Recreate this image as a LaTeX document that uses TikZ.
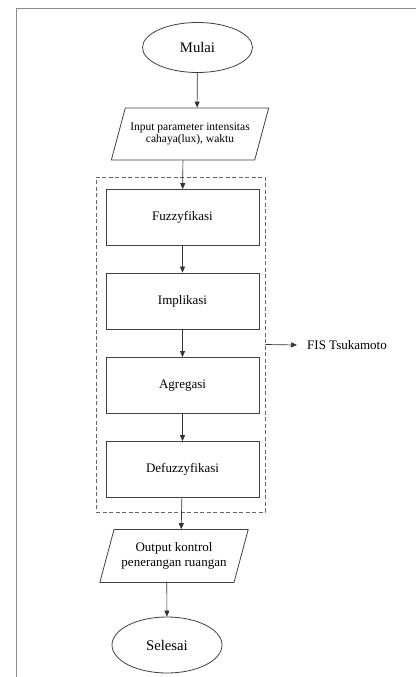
\documentclass[tikz,border=0pt]{standalone}
\usepackage{fontspec}
\setmainfont{Liberation Serif}
\usetikzlibrary{shapes.geometric,arrows.meta}

\tikzset{
    terminal/.style={draw=black!75, line width=0.8pt, ellipse, minimum width=110, minimum height=50, font=\fontsize{14.7}{17}\selectfont},
    process/.style={draw=black!75, line width=0.8pt, rectangle, minimum width=153, minimum height=56, font=\fontsize{13}{15}\selectfont},
    inout/.style={draw=black!75, line width=0.8pt, trapezium, trapezium left angle=75, trapezium right angle=105, align=center},
    flow/.style={-{Triangle[length=6pt,width=5pt]}, line width=0.7pt, black!80}
}

\begin{document}
\begin{tikzpicture}[x=1pt,y=-1pt]
    \useasboundingbox (0,0) rectangle (416,677);
    % bingkai
    \draw[black!45, line width=0.9pt] (416,8) -- (16,8) -- (16,677);

    % terminal dan input
    \node[terminal] (mulai) at (197.5,47.5) {Mulai};
    \node[inout, inner xsep=5pt, inner ysep=15pt, font=\fontsize{11.5}{12}\selectfont] (input) at (190,134) {Input parameter intensitas\\cahaya(lux), waktu};

    % blok FIS
    \node[draw=black!60, dash pattern=on 4pt off 2.5pt, line width=0.8pt, minimum width=169, minimum height=335] (fis) at (180.5,344.5) {};
    \node[process] (fuzz) at (182.5,217.5) {Fuzzyfikasi};
    \node[process] (impl) at (182.5,301) {Implikasi};
    \node[process] (agr) at (182.5,385.5) {Agregasi};
    \node[process] (defuzz) at (182.5,469.5) {Defuzzyfikasi};
    \node[anchor=west, inner sep=0pt, font=\fontsize{13}{15}\selectfont] (fislabel) at (307,345) {FIS Tsukamoto};

    % output dan selesai
    \node[inout, inner xsep=7.5pt, inner ysep=13pt, font=\fontsize{13}{15}\selectfont] (output) at (174,556) {Output kontrol\\penerangan ruangan};
    \node[terminal, minimum height=56] (selesai) at (167,645) {Selesai};

    % panah
    \draw[flow] (mulai) -- (input.top side);
    \draw[flow] (input.bottom side) -- (fuzz);
    \draw[flow] (fuzz) -- (impl);
    \draw[flow] (impl) -- (agr);
    \draw[flow] (agr) -- (defuzz);
    \draw[flow] (defuzz) -- (output.top side);
    \draw[flow] (output.bottom side) -- (selesai);
    \draw[flow] (fis.east) -- ([xshift=-10pt]fislabel.west);
\end{tikzpicture}
\end{document}
